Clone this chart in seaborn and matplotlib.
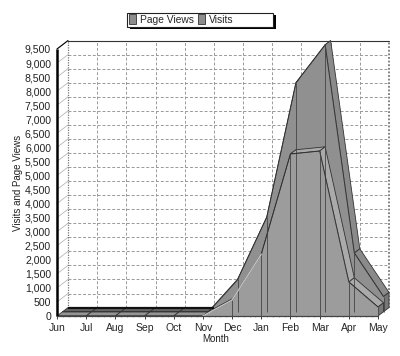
import numpy as np
import matplotlib.pyplot as plt
from matplotlib.patches import Patch, Rectangle
import seaborn as sns

months = ['Jun', 'Jul', 'Aug', 'Sep', 'Oct', 'Nov', 'Dec', 'Jan', 'Feb', 'Mar', 'Apr', 'May']
page_views = [0, 0, 0, 0, 0, 0, 1150, 3370, 8150, 9500, 2090, 540]
visits = [0, 0, 0, 0, 0, 0, 570, 2200, 5765, 5870, 1210, 320]
y_ticks = list(range(0, 10000, 500))

# depth of the fake 3d box, in data units
depth_x = 0.377
depth_y = 300


def ribbon(ax, values, z0, z1, front_color, top_color, flat_color):
    x = np.arange(len(values))
    v = np.array(values, dtype=float)
    ox0, oy0 = z0 * depth_x, z0 * depth_y
    ox1, oy1 = z1 * depth_x, z1 * depth_y

    for i in range(len(x) - 1):
        xs = [x[i] + ox0, x[i + 1] + ox0, x[i + 1] + ox1, x[i] + ox1]
        ys = [v[i] + oy0, v[i + 1] + oy0, v[i + 1] + oy1, v[i] + oy1]
        color = flat_color if v[i] == 0 and v[i + 1] == 0 else top_color
        ax.fill(xs, ys, facecolor=color, edgecolor='#333333', lw=0.6, clip_on=False, zorder=3)

    # end cap on the right
    ax.fill([x[-1] + ox0, x[-1] + ox1, x[-1] + ox1, x[-1] + ox0],
            [oy0, oy1, v[-1] + oy1, v[-1] + oy0],
            facecolor='#777777', edgecolor='#333333', lw=0.6, clip_on=False, zorder=3)

    ax.fill_between(x + ox0, oy0, v + oy0, color=front_color, lw=0, clip_on=False, zorder=3)
    sns.lineplot(x=x + ox0, y=v + oy0, ax=ax, color='#333333', lw=0.7, clip_on=False, zorder=4,
                 estimator=None, sort=False, legend=False)
    ax.vlines(x[1:] + ox0, oy0, v[1:] + oy0, color='#444444', lw=0.6, clip_on=False, zorder=4)


if __name__ == '__main__':

    sns.set_style('white')
    plt.rcParams['font.family'] = ['Liberation Sans', 'DejaVu Sans']
    plt.rcParams['font.size'] = 8

    fig = plt.figure(figsize=(4, 3.56), dpi=100)
    ax = fig.add_axes([57 / 400, 1 - 316 / 356, 321 / 400, 267 / 356])
    ax.set_xlim(0, 11)
    ax.set_ylim(0, 9500)
    for s in ax.spines.values():
        s.set_visible(False)

    # back wall
    for m in range(1, 11):
        ax.plot([m + depth_x] * 2, [depth_y, 9500 + depth_y], color='#999999', lw=0.7, ls=(0, (3, 2)),
                clip_on=False, zorder=1)
    for t in y_ticks[1:]:
        ax.plot([depth_x, 11 + depth_x], [t + depth_y] * 2, color='#999999', lw=0.7, ls=(0, (3, 2)),
                clip_on=False, zorder=1)
        ax.plot([0, depth_x], [t, t + depth_y], color='#aaaaaa', lw=0.5, clip_on=False, zorder=1)
    ax.plot([depth_x] * 2, [depth_y, 9500 + depth_y], color='#777777', lw=0.9, ls=(0, (1, 1)),
            clip_on=False, zorder=1)
    ax.plot([11 + depth_x] * 2, [depth_y, 9500 + depth_y], color='#777777', lw=1.3, ls=(0, (1, 1)),
            clip_on=False, zorder=1)
    ax.plot([depth_x, 11 + depth_x], [9500 + depth_y] * 2, color='#333333', lw=0.8, clip_on=False, zorder=1)
    ax.plot([0, depth_x], [9500, 9500 + depth_y], color='black', lw=0.8, clip_on=False, zorder=1)

    ribbon(ax, page_views, 0.5, 1.0, '#909090', '#8a8a8a', '#666666')
    ribbon(ax, visits, 0.0, 0.5, '#9c9c9c', '#aaaaaa', '#959595')

    # black back edge of the flat months
    flat = [i for i, v in enumerate(page_views) if v == 0]
    ax.plot(np.array(flat) + depth_x, [depth_y - 25] * len(flat), color='#111111', lw=1.6, clip_on=False,
            zorder=4, solid_capstyle='butt')

    # lighter edge along the front of the rising part
    sns.lineplot(x=np.arange(5, 8), y=visits[5:8], ax=ax, color='#cccccc', lw=0.9, clip_on=False, zorder=5,
                 estimator=None, sort=False, legend=False)

    ax.plot([0, 0], [0, 9500], color='black', lw=1.8, clip_on=False, zorder=6, solid_capstyle='butt')
    ax.plot([0, 11], [0, 0], color='#444444', lw=0.9, clip_on=False, zorder=6)

    ax.set_xticks(range(len(months)))
    ax.set_xticklabels(months)
    ax.set_xticks(np.arange(0, 11.01, 0.2), minor=True)
    ax.set_yticks(y_ticks)
    ax.set_yticklabels([f'{t:,}' for t in y_ticks])
    ax.tick_params(axis='x', which='major', bottom=True, length=2, width=0.6, pad=3, labelsize=7.5, color='#222222')
    ax.tick_params(axis='x', which='minor', bottom=True, length=1, width=0.4, color='#666666')
    ax.tick_params(axis='y', which='major', left=False, length=0, pad=4.3, labelsize=7.6, labelcolor='#222222')

    ax.set_xlabel('Month', fontsize=7, color='#222222')
    ax.xaxis.set_label_coords((216 - 57) / 321, -(334 - 316) / 267, transform=ax.transAxes)
    ax.set_ylabel('Visits and Page Views', fontsize=7, color='#222222')
    ax.yaxis.set_label_coords(-(57 - 23) / 321, (316 - 183) / 267, transform=ax.transAxes)

    # legend box and its shadow
    fig.add_artist(Rectangle((130 / 400, 1 - 29 / 356), 146 / 400, 14 / 356, transform=fig.transFigure,
                             facecolor='black', edgecolor='black', lw=0))
    fig.add_artist(Rectangle((127 / 400, 1 - 26.5 / 356), 146 / 400, 14 / 356, transform=fig.transFigure,
                             facecolor='white', edgecolor='#222222', lw=0.8))

    handles = [Patch(facecolor='#8d8d8d', edgecolor='#333333', lw=0.6, label='Page Views'),
               Patch(facecolor='#8d8d8d', edgecolor='#333333', lw=0.6, label='Visits')]
    fig.legend(handles=handles, ncol=2, loc='center left', bbox_to_anchor=(129 / 400, 1 - 19.5 / 356),
               fontsize=7.4, frameon=False, handlelength=0.7, handleheight=1.0, handletextpad=0.35,
               columnspacing=0.4, borderpad=0, borderaxespad=0)

    fig.savefig('out.png', dpi=100, facecolor='white')
